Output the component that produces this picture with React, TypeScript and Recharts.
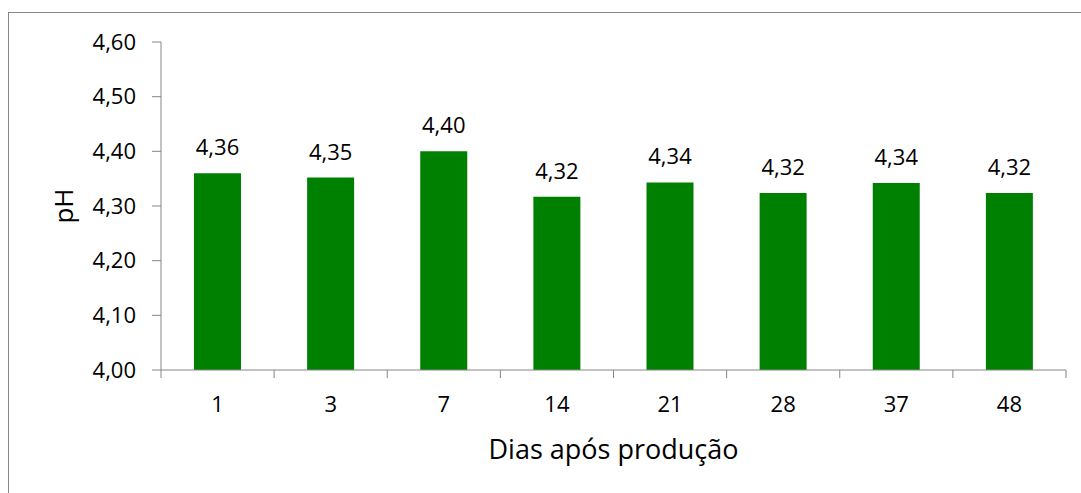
import { BarChart, Bar, XAxis, YAxis, LabelList, Label } from 'recharts';

const dias = ['1', '3', '7', '14', '21', '28', '37', '48'];
const ph = [4.36, 4.352, 4.4, 4.317, 4.343, 4.324, 4.342, 4.324];
const yTicks = [4.0, 4.1, 4.2, 4.3, 4.4, 4.5, 4.6];

const WIDTH = 1081;
const HEIGHT = 493;
const MARGIN = { top: 42, right: 15, bottom: 33, left: 0 };
const Y_AXIS_WIDTH = 161;
const X_TICK_SIZE = 8;
const X_TICK_MARGIN = 18;
const AXIS_COLOR = '#868686';
const FONT = '"Open Sans", sans-serif';

const fmt = (v: number) => v.toFixed(2).replace('.', ',');

const chartData = dias.map((d, i) => ({ dia: d, ph: ph[i] }));

// category ticks sit between the bars, so the tick marks are drawn by hand
const bandWidth = (WIDTH - MARGIN.left - MARGIN.right - Y_AXIS_WIDTH) / dias.length;

function CategoryTick(props: any) {
  const { x, y, payload, index } = props;
  const axisY = y - X_TICK_SIZE - X_TICK_MARGIN;
  const left = x - bandWidth / 2;
  const right = x + bandWidth / 2;
  return (
    <g>
      <line x1={left} x2={left} y1={axisY} y2={axisY + X_TICK_SIZE} stroke={AXIS_COLOR} />
      {index === dias.length - 1 && (
        <line x1={right} x2={right} y1={axisY} y2={axisY + X_TICK_SIZE} stroke={AXIS_COLOR} />
      )}
      <text x={x} y={y} dy="0.71em" textAnchor="middle" fill="#000" fontSize={22} fontFamily={FONT}>
        {payload.value}
      </text>
    </g>
  );
}

function PhLabel(props: any) {
  const { viewBox } = props;
  const cx = 73;
  const cy = viewBox.y + viewBox.height / 2;
  return (
    <text
      x={cx}
      y={cy}
      transform={`rotate(-90, ${cx}, ${cy})`}
      textAnchor="middle"
      fill="#000"
      fontSize={26}
      fontFamily={FONT}
    >
      pH
    </text>
  );
}

export default function App() {
  return (
    <div
      style={{
        position: 'fixed',
        left: 0,
        top: 0,
        width: WIDTH,
        height: HEIGHT,
        overflow: 'hidden',
        background: '#fff',
      }}
    >
      <div
        style={{
          position: 'absolute',
          left: 8,
          top: 12,
          width: 1100,
          height: 600,
          border: `1px solid ${AXIS_COLOR}`,
        }}
      />
      <div style={{ position: 'absolute', left: 0, top: 0 }}>
        <BarChart width={WIDTH} height={HEIGHT} data={chartData} margin={MARGIN}>
          <XAxis
            dataKey="dia"
            height={90}
            axisLine={{ stroke: AXIS_COLOR }}
            tickLine={false}
            tickSize={X_TICK_SIZE}
            tickMargin={X_TICK_MARGIN}
            tick={<CategoryTick />}
            interval={0}
          >
            <Label
              value="Dias após produção"
              position="insideBottom"
              offset={1}
              fill="#000"
              fontSize={27}
              fontFamily={FONT}
            />
          </XAxis>
          <YAxis
            width={Y_AXIS_WIDTH}
            domain={[4, 4.6]}
            ticks={yTicks}
            tickFormatter={fmt}
            axisLine={{ stroke: AXIS_COLOR }}
            tickLine={{ stroke: AXIS_COLOR }}
            tickSize={9}
            tickMargin={16}
            tick={{ fill: '#000', fontSize: 22, fontFamily: FONT }}
            allowDataOverflow
          >
            <Label content={<PhLabel />} />
          </YAxis>
          <Bar dataKey="ph" fill="#008000" barSize={47} isAnimationActive={false}>
            <LabelList
              dataKey="ph"
              position="top"
              offset={18}
              formatter={(v: any) => fmt(Number(v))}
              fill="#000"
              fontSize={22}
              fontFamily={FONT}
            />
          </Bar>
        </BarChart>
      </div>
    </div>
  );
}
